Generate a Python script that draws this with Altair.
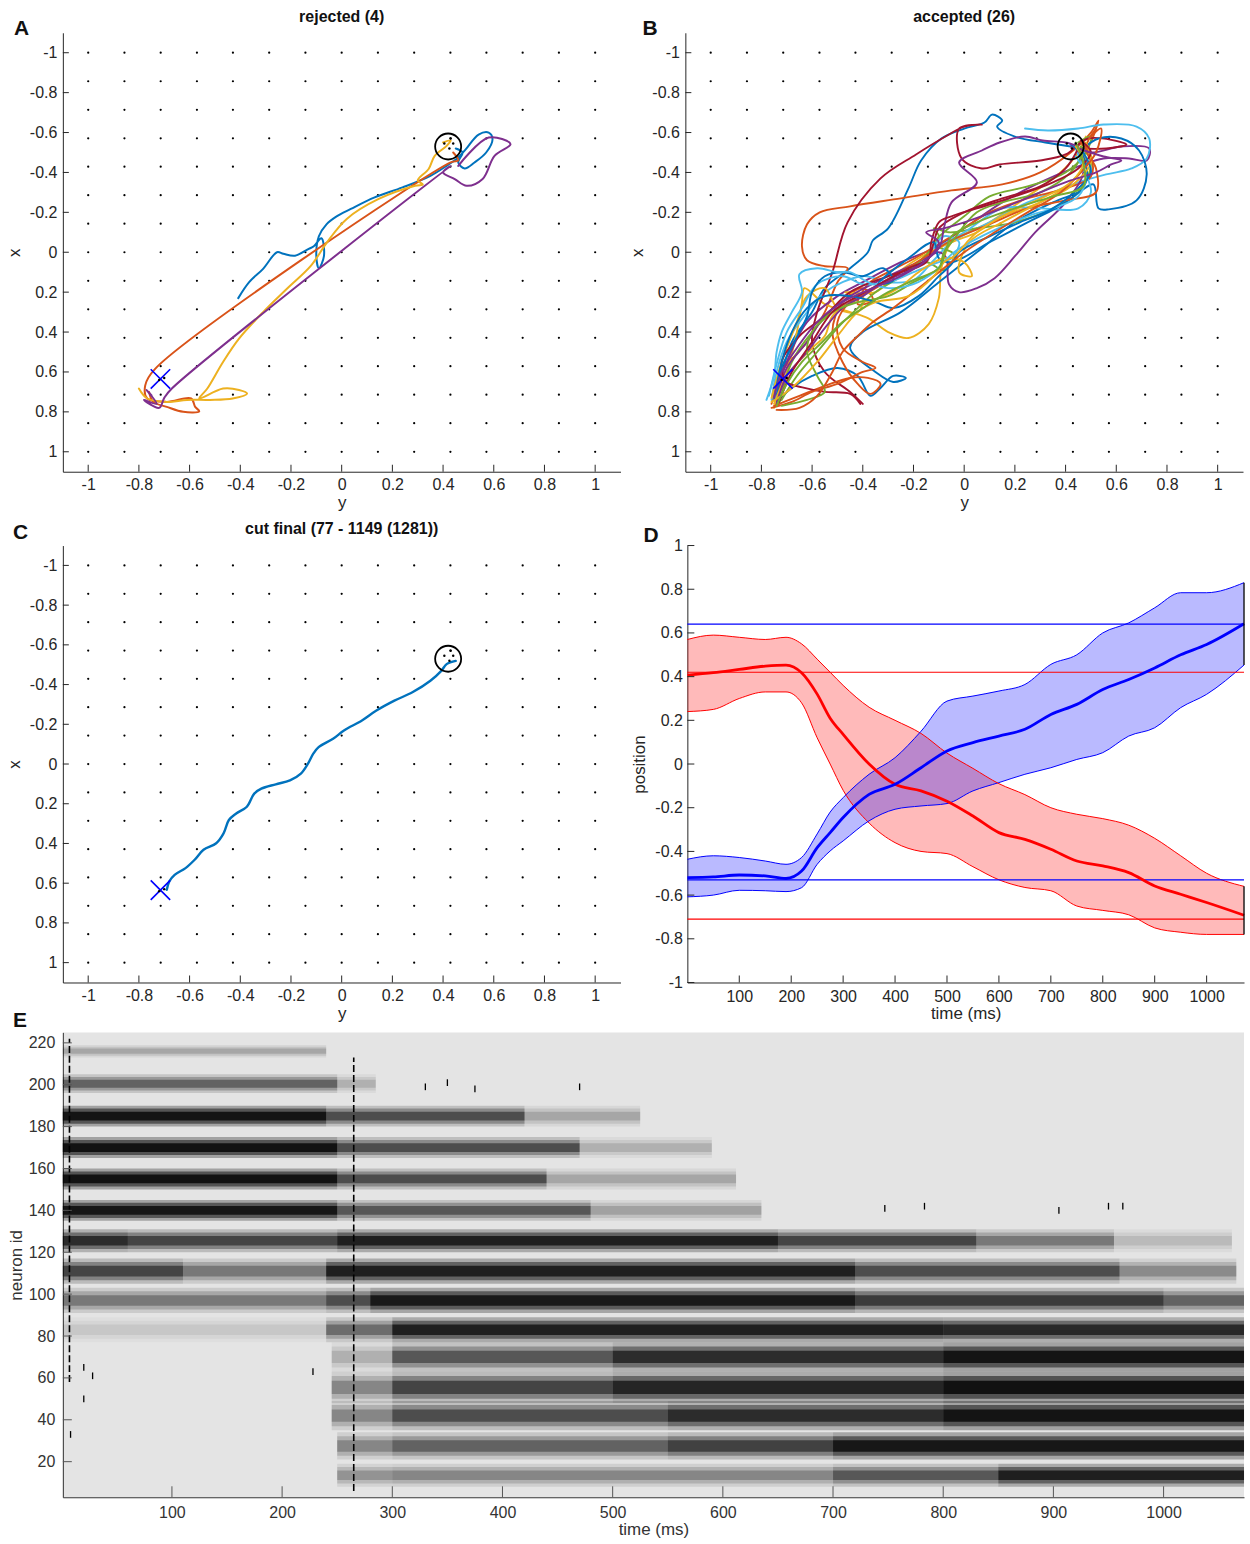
import altair as alt
import pandas as pd

FONT = "Liberation Sans"
INK = "#262626"
MATLAB = ["#0072BD", "#D95319", "#EDB120", "#7E2F8E", "#77AC30", "#4DBEEE", "#A2142F"]

# ---------------- shared for trajectory panels (A, B, C) ----------------
GRID = [-1, -0.857, -0.714, -0.571, -0.429, -0.286, -0.143, 0, 0.143, 0.286,
        0.429, 0.571, 0.714, 0.857, 1]
POS_TICKS = [-1, -0.8, -0.6, -0.4, -0.2, 0, 0.2, 0.4, 0.6, 0.8, 1]
TARGET = (0.42, -0.53)
START = (-0.715, 0.635)

# ---------------- panel A: rejected trajectories (y, x) ----------------
A_TRAJ = [
    [(-0.408, 0.23), (-0.365, 0.15), (-0.31, 0.083), (-0.255, 0.0), (-0.23, 0.008),
     (-0.184, 0.017), (-0.13, -0.017), (-0.11, -0.03), (-0.08, -0.07), (-0.07, 0.02),
     (-0.09, 0.08), (-0.10, 0.02), (-0.09, -0.08), (-0.06, -0.14), (-0.02, -0.18),
     (0.036, -0.217), (0.13, -0.275), (0.24, -0.325), (0.35, -0.383), (0.414, -0.433),
     (0.46, -0.475), (0.49, -0.517), (0.54, -0.59), (0.58, -0.60), (0.595, -0.567),
     (0.57, -0.50), (0.524, -0.45), (0.485, -0.42), (0.46, -0.45), (0.477, -0.50), (0.45, -0.52)],
    [(0.44, -0.50), (0.46, -0.46), (0.43, -0.45), (-0.735, 0.583), (-0.775, 0.667),
     (-0.767, 0.733), (-0.69, 0.75), (-0.594, 0.733), (-0.578, 0.775), (-0.562, 0.797),
     (-0.625, 0.80), (-0.69, 0.775), (-0.743, 0.75), (-0.76, 0.70)],
    [(0.40, -0.55), (0.43, -0.56), (0.414, -0.533), (0.367, -0.483), (0.343, -0.417),
     (0.30, -0.36), (0.32, -0.34), (0.29, -0.333), (0.146, -0.267), (0.02, -0.167),
     (-0.058, -0.05), (-0.121, 0.067), (-0.216, 0.183), (-0.31, 0.30), (-0.405, 0.433),
     (-0.468, 0.55), (-0.53, 0.683), (-0.562, 0.733), (-0.468, 0.683), (-0.405, 0.69),
     (-0.373, 0.708), (-0.43, 0.733), (-0.52, 0.74), (-0.61, 0.74), (-0.69, 0.75),
     (-0.767, 0.733), (-0.80, 0.683)],
    [(-0.75, 0.717), (-0.77, 0.69), (-0.73, 0.76), (-0.78, 0.74), (-0.72, 0.78),
     (-0.70, 0.73), (-0.67, 0.683), (0.43, -0.433), (0.40, -0.40), (0.446, -0.367),
     (0.493, -0.333), (0.556, -0.367), (0.603, -0.483), (0.666, -0.542), (0.58, -0.575),
     (0.46, -0.433)],
]

# ---------------- panel B: accepted trajectories (y, x) ----------------
B_TRAJ = [
    [(-0.74, 0.74), (-0.72, 0.62), (-0.68, 0.45), (-0.60, 0.30), (-0.55, 0.18), (-0.45, 0.08),
     (-0.38, 0.0), (-0.36, -0.06), (-0.30, -0.12), (-0.22, -0.32), (-0.17, -0.46), (-0.09, -0.57),
     (0.0, -0.62), (0.08, -0.65), (0.11, -0.69), (0.15, -0.66), (0.13, -0.63), (0.20, -0.58),
     (0.32, -0.55), (0.42, -0.53)],
    [(-0.76, 0.76), (-0.72, 0.60), (-0.62, 0.45), (-0.55, 0.30), (-0.50, 0.15), (-0.46, 0.08),
     (-0.55, 0.07), (-0.62, 0.04), (-0.64, -0.03), (-0.62, -0.14), (-0.57, -0.20), (-0.45, -0.23),
     (-0.25, -0.27), (-0.05, -0.31), (0.15, -0.34), (0.30, -0.40), (0.42, -0.50), (0.50, -0.60),
     (0.53, -0.66), (0.50, -0.55)],
    [(-0.75, 0.78), (-0.70, 0.60), (-0.66, 0.40), (-0.64, 0.25), (-0.63, 0.18), (-0.55, 0.26),
     (-0.45, 0.30), (-0.38, 0.33), (-0.30, 0.40), (-0.22, 0.43), (-0.14, 0.36), (-0.10, 0.23),
     (-0.09, 0.08), (-0.05, -0.05), (0.10, -0.15), (0.25, -0.28), (0.38, -0.40), (0.45, -0.50),
     (0.48, -0.58)],
    [(-0.74, 0.72), (-0.70, 0.55), (-0.62, 0.35), (-0.50, 0.22), (-0.40, 0.15), (-0.25, 0.05),
     (-0.12, -0.02), (0.0, -0.12), (0.15, -0.25), (0.30, -0.35), (0.45, -0.43), (0.55, -0.47),
     (0.65, -0.47), (0.72, -0.46), (0.73, -0.52), (0.62, -0.53), (0.50, -0.50), (0.42, -0.53)],
    [(-0.73, 0.76), (-0.68, 0.55), (-0.60, 0.40), (-0.52, 0.30), (-0.40, 0.22), (-0.28, 0.12),
     (-0.15, 0.05), (-0.08, 0.09), (-0.04, 0.01), (-0.12, -0.04), (-0.08, -0.10), (0.0, -0.18),
     (0.10, -0.28), (0.25, -0.33), (0.40, -0.40), (0.48, -0.50), (0.50, -0.58), (0.45, -0.55)],
    [(-0.76, 0.74), (-0.74, 0.60), (-0.70, 0.45), (-0.62, 0.30), (-0.55, 0.20), (-0.40, 0.12),
     (-0.30, 0.15), (-0.20, 0.14), (-0.12, 0.04), (-0.05, -0.05), (0.10, -0.15), (0.25, -0.25),
     (0.35, -0.30), (0.45, -0.35), (0.56, -0.39), (0.66, -0.42), (0.72, -0.47), (0.73, -0.57),
     (0.68, -0.63), (0.55, -0.64), (0.45, -0.62), (0.33, -0.61), (0.24, -0.62)],
    [(-0.40, 0.76), (-0.45, 0.70), (-0.55, 0.60), (-0.60, 0.45), (-0.58, 0.30), (-0.52, 0.10),
     (-0.46, -0.15), (-0.33, -0.37), (-0.19, -0.49), (-0.06, -0.59), (0.0, -0.63), (0.07, -0.64),
     (-0.02, -0.62), (-0.01, -0.47), (0.07, -0.42), (0.14, -0.44), (0.30, -0.46), (0.40, -0.49),
     (0.49, -0.57), (0.64, -0.54), (0.56, -0.52), (0.45, -0.52)],
    [(-0.74, 0.75), (-0.68, 0.68), (-0.60, 0.62), (-0.50, 0.58), (-0.42, 0.62), (-0.37, 0.72),
     (-0.33, 0.68), (-0.28, 0.62), (-0.23, 0.63), (-0.28, 0.65), (-0.35, 0.60), (-0.45, 0.48),
     (-0.40, 0.40), (-0.25, 0.30), (-0.10, 0.15), (0.05, 0.0), (0.20, -0.15), (0.35, -0.25),
     (0.45, -0.30), (0.51, -0.34), (0.53, -0.22), (0.57, -0.215), (0.68, -0.26), (0.72, -0.39),
     (0.69, -0.51), (0.62, -0.57), (0.53, -0.57), (0.47, -0.52)],
    [(-0.75, 0.77), (-0.65, 0.72), (-0.55, 0.67), (-0.45, 0.63), (-0.38, 0.63), (-0.33, 0.66),
     (-0.37, 0.71), (-0.42, 0.66), (-0.48, 0.55), (-0.52, 0.40), (-0.48, 0.25), (-0.40, 0.18),
     (-0.36, 0.24), (-0.42, 0.26), (-0.38, 0.16), (-0.30, 0.10), (-0.18, 0.02), (-0.05, -0.08),
     (0.10, -0.20), (0.25, -0.27), (0.40, -0.32), (0.50, -0.38), (0.50, -0.48), (0.46, -0.55)],
    [(-0.76, 0.73), (-0.72, 0.55), (-0.66, 0.35), (-0.62, 0.22), (-0.55, 0.18), (-0.50, 0.28),
     (-0.42, 0.30), (-0.40, 0.22), (-0.47, 0.20), (-0.35, 0.20), (-0.28, 0.12), (-0.18, 0.03),
     (-0.05, -0.05), (0.05, -0.10), (0.15, -0.18), (0.30, -0.25), (0.42, -0.35), (0.48, -0.45),
     (0.45, -0.52)],
    [(-0.74, 0.74), (-0.70, 0.58), (-0.62, 0.45), (-0.55, 0.32), (-0.45, 0.22), (-0.30, 0.12),
     (-0.18, 0.05), (-0.10, 0.0), (-0.07, 0.03), (-0.06, 0.16), (-0.02, 0.20), (0.05, 0.18),
     (0.12, 0.13), (0.20, 0.02), (0.28, -0.10), (0.40, -0.25), (0.47, -0.40), (0.45, -0.50)],
    [(-0.72, 0.74), (-0.66, 0.62), (-0.58, 0.50), (-0.50, 0.38), (-0.42, 0.28), (-0.35, 0.20),
     (-0.25, 0.12), (-0.14, 0.0), (-0.10, -0.08), (-0.12, -0.12), (-0.06, -0.10), (0.05, -0.12),
     (0.20, -0.15), (0.35, -0.22), (0.45, -0.30), (0.50, -0.45), (0.46, -0.53)],
    [(-0.77, 0.72), (-0.74, 0.56), (-0.70, 0.40), (-0.64, 0.28), (-0.58, 0.16), (-0.48, 0.12),
     (-0.40, 0.16), (-0.30, 0.15), (-0.20, 0.10), (-0.10, 0.05), (-0.05, 0.03), (-0.02, -0.05),
     (-0.08, -0.08), (-0.12, -0.02), (0.0, -0.10), (0.15, -0.22), (0.30, -0.22), (0.45, -0.22),
     (0.50, -0.30), (0.47, -0.42), (0.44, -0.52)],
    [(-0.41, 0.76), (-0.45, 0.71), (-0.55, 0.70), (-0.63, 0.68), (-0.70, 0.65), (-0.72, 0.55),
     (-0.65, 0.42), (-0.55, 0.32), (-0.45, 0.20), (-0.30, 0.12), (-0.15, 0.05), (-0.12, -0.05),
     (-0.10, -0.12), (0.0, -0.20), (0.15, -0.27), (0.30, -0.33), (0.40, -0.42), (0.45, -0.52)],
    [(-0.74, 0.73), (-0.72, 0.58), (-0.67, 0.45), (-0.62, 0.32), (-0.60, 0.20), (-0.55, 0.12),
     (-0.48, 0.10), (-0.40, 0.12), (-0.32, 0.08), (-0.28, 0.14), (-0.34, 0.16), (-0.22, 0.03),
     (-0.12, -0.05), (-0.10, 0.03), (-0.05, 0.05), (0.10, -0.05), (0.25, -0.15), (0.40, -0.25),
     (0.48, -0.35), (0.47, -0.48), (0.42, -0.54)],
    [(-0.76, 0.78), (-0.68, 0.75), (-0.60, 0.70), (-0.50, 0.66), (-0.40, 0.60), (-0.35, 0.58),
     (-0.40, 0.55), (-0.48, 0.48), (-0.50, 0.35), (-0.45, 0.25), (-0.35, 0.18), (-0.25, 0.10),
     (-0.15, 0.02), (-0.05, -0.06), (0.10, -0.14), (0.25, -0.22), (0.40, -0.26), (0.52, -0.30),
     (0.52, -0.42), (0.48, -0.52), (0.52, -0.62)],
    [(-0.75, 0.76), (-0.70, 0.62), (-0.60, 0.48), (-0.55, 0.42), (-0.52, 0.32), (-0.46, 0.26),
     (-0.36, 0.24), (-0.26, 0.18), (-0.18, 0.10), (-0.08, 0.03), (0.0, 0.05), (0.03, 0.12),
     (-0.02, 0.10), (0.02, -0.05), (0.15, -0.15), (0.30, -0.25), (0.42, -0.33), (0.50, -0.45),
     (0.48, -0.55)],
    [(-0.74, 0.76), (-0.70, 0.62), (-0.62, 0.50), (-0.55, 0.38), (-0.48, 0.28), (-0.40, 0.22),
     (-0.32, 0.15), (-0.20, 0.08), (-0.10, -0.02), (-0.08, -0.12), (-0.05, -0.25), (0.05, -0.35),
     (-0.02, -0.45), (0.07, -0.51), (0.14, -0.55), (0.24, -0.58), (0.31, -0.56), (0.40, -0.55),
     (0.45, -0.53)],
    [(-0.72, 0.77), (-0.62, 0.74), (-0.55, 0.70), (-0.58, 0.62), (-0.62, 0.50), (-0.60, 0.40),
     (-0.52, 0.30), (-0.42, 0.25), (-0.30, 0.22), (-0.20, 0.15), (-0.10, 0.08), (-0.08, 0.0),
     (-0.05, -0.05), (0.05, -0.20), (0.15, -0.25), (0.30, -0.30), (0.42, -0.40), (0.47, -0.50)],
    [(-0.78, 0.74), (-0.75, 0.62), (-0.74, 0.50), (-0.72, 0.40), (-0.68, 0.30), (-0.64, 0.20),
     (-0.65, 0.11), (-0.58, 0.08), (-0.50, 0.10), (-0.45, 0.10), (-0.38, 0.15), (-0.30, 0.18),
     (-0.20, 0.16), (-0.12, 0.10), (-0.04, 0.00), (0.10, -0.10), (0.25, -0.18), (0.35, -0.22),
     (0.45, -0.28), (0.48, -0.38), (0.44, -0.48)],
    [(-0.73, 0.75), (-0.68, 0.60), (-0.60, 0.45), (-0.52, 0.30), (-0.42, 0.22), (-0.32, 0.15),
     (-0.22, 0.08), (-0.14, 0.03), (-0.13, -0.05), (-0.10, -0.15), (-0.05, -0.18), (0.05, -0.22),
     (0.20, -0.28), (0.35, -0.35), (0.45, -0.42), (0.50, -0.50), (0.46, -0.56)],
    [(-0.75, 0.74), (-0.72, 0.55), (-0.68, 0.40), (-0.62, 0.28), (-0.55, 0.22), (-0.45, 0.22),
     (-0.35, 0.25), (-0.28, 0.28), (-0.18, 0.22), (-0.10, 0.12), (-0.05, 0.06), (-0.02, 0.0),
     (0.10, -0.08), (0.22, -0.15), (0.35, -0.22), (0.45, -0.32), (0.50, -0.40), (0.47, -0.50)],
    [(-0.74, 0.79), (-0.65, 0.78), (-0.58, 0.72), (-0.52, 0.60), (-0.48, 0.50), (-0.42, 0.42),
     (-0.36, 0.35), (-0.28, 0.28), (-0.20, 0.20), (-0.10, 0.10), (0.0, 0.0), (0.12, -0.10),
     (0.25, -0.20), (0.38, -0.30), (0.46, -0.40), (0.52, -0.50), (0.54, -0.62), (0.50, -0.58)],
    [(-0.76, 0.75), (-0.68, 0.68), (-0.58, 0.55), (-0.50, 0.42), (-0.42, 0.30), (-0.35, 0.25),
     (-0.22, 0.22), (-0.12, 0.12), (-0.08, 0.05), (-0.04, 0.02), (0.05, -0.10), (0.18, -0.20),
     (0.32, -0.28), (0.42, -0.35), (0.47, -0.45), (0.44, -0.53)],
    [(-0.75, 0.73), (-0.72, 0.60), (-0.66, 0.48), (-0.58, 0.35), (-0.48, 0.25), (-0.36, 0.18),
     (-0.25, 0.12), (-0.15, 0.04), (-0.10, -0.05), (-0.15, -0.10), (-0.08, -0.12), (0.0, -0.15),
     (0.15, -0.22), (0.30, -0.30), (0.42, -0.36), (0.52, -0.40), (0.58, -0.44), (0.62, -0.46),
     (0.55, -0.48), (0.45, -0.52)],
    [(-0.74, 0.77), (-0.70, 0.66), (-0.64, 0.55), (-0.56, 0.45), (-0.48, 0.35), (-0.40, 0.28),
     (-0.30, 0.20), (-0.20, 0.14), (-0.10, 0.08), (-0.07, -0.02), (-0.05, -0.08), (0.05, -0.15),
     (0.20, -0.22), (0.35, -0.28), (0.47, -0.33), (0.47, -0.45), (0.44, -0.55)],
]

# ---------------- panel C: final cut trajectory (y, x) ----------------
C_TRAJ = [(0.45, -0.519), (0.414, -0.503), (0.393, -0.469), (0.35, -0.419), (0.279, -0.361),
          (0.208, -0.319), (0.137, -0.269), (0.080, -0.219), (0.009, -0.169), (-0.034, -0.127),
          (-0.091, -0.085), (-0.112, -0.052), (-0.133, -0.002), (-0.161, 0.048), (-0.204, 0.082),
          (-0.26, 0.102), (-0.317, 0.124), (-0.345, 0.149), (-0.374, 0.215), (-0.416, 0.249),
          (-0.445, 0.282), (-0.466, 0.349), (-0.495, 0.399), (-0.545, 0.432), (-0.58, 0.482),
          (-0.616, 0.524), (-0.659, 0.558), (-0.68, 0.591), (-0.69, 0.633)]

# ---------------- panel D: position over time ----------------
D_T = [0, 50, 100, 150, 190, 220, 250, 275, 300, 350, 400, 450, 500, 550, 600, 650, 700,
       750, 800, 850, 900, 950, 1000, 1072]
D_RED_MEAN = [0.407, 0.418, 0.433, 0.448, 0.453, 0.418, 0.32, 0.21, 0.136, 0.0, -0.093, -0.123,
              -0.17, -0.238, -0.314, -0.345, -0.39, -0.444, -0.466, -0.497, -0.558, -0.596,
              -0.634, -0.692]
D_RED_HI = [0.57, 0.59, 0.58, 0.57, 0.58, 0.55, 0.48, 0.42, 0.36, 0.26, 0.20, 0.14, 0.05, -0.02,
            -0.09, -0.14, -0.20, -0.23, -0.25, -0.28, -0.34, -0.42, -0.50, -0.56]
D_RED_LO = [0.24, 0.25, 0.30, 0.33, 0.33, 0.28, 0.12, 0.0, -0.12, -0.27, -0.36, -0.40, -0.41,
            -0.47, -0.53, -0.565, -0.58, -0.65, -0.67, -0.69, -0.75, -0.77, -0.78, -0.78]
D_BLUE_MEAN = [-0.52, -0.517, -0.508, -0.512, -0.524, -0.49, -0.383, -0.314, -0.245, -0.139,
               -0.093, -0.017, 0.06, 0.098, 0.128, 0.159, 0.227, 0.273, 0.341, 0.387, 0.44,
               0.50, 0.547, 0.642]
D_BLUE_HI = [-0.436, -0.42, -0.428, -0.444, -0.459, -0.428, -0.32, -0.22, -0.154, -0.047, 0.029,
             0.15, 0.288, 0.311, 0.334, 0.364, 0.456, 0.50, 0.60, 0.646, 0.715, 0.784, 0.784, 0.83]
D_BLUE_LO = [-0.608, -0.60, -0.578, -0.58, -0.584, -0.566, -0.459, -0.398, -0.352, -0.26, -0.207,
             -0.192, -0.181, -0.123, -0.085, -0.047, -0.017, 0.021, 0.052, 0.128, 0.166, 0.258,
             0.319, 0.453]
D_HLINE_VALUES = [0.64, -0.53, 0.42, -0.71]
D_HLINE_SERIES = ["blue", "blue", "red", "red"]
D_Y_TICKS = [-1, -0.8, -0.6, -0.4, -0.2, 0, 0.2, 0.4, 0.6, 0.8, 1]
TIME_TICKS = [100, 200, 300, 400, 500, 600, 700, 800, 900, 1000]
SERIES_COLOR = {"red": "#ff0000", "blue": "#0000ff"}

# ---------------- panel E: spike raster (density per neuron group / time window) -----------
E_GROUP_LO = [213, 196, 180, 165, 150, 135, 120, 105, 91, 77, 63, 48, 35, 21, 8]
E_GROUP_HI = [219, 205, 190, 175, 160, 145, 131, 117, 103, 89, 77, 63, 49, 34, 19]
E_SEG_GROUP = [0,
               1, 1,
               2, 2, 2,
               3, 3, 3,
               4, 4, 4,
               5, 5, 5,
               6, 6, 6, 6, 6, 6,
               7, 7, 7, 7, 7,
               8, 8, 8, 8, 8,
               9, 9, 9, 9,
               10, 10, 10, 10,
               11, 11, 11, 11,
               12, 12, 12, 12,
               13, 13, 13, 13,
               14, 14, 14, 14]
E_SEG_T0 = [1,
            1, 250,
            1, 240, 420,
            1, 250, 470,
            1, 250, 440,
            1, 250, 480,
            1, 60, 250, 650, 830, 955,
            1, 110, 240, 720, 960,
            1, 240, 280, 720, 1000,
            1, 240, 300, 800,
            245, 300, 500, 800,
            245, 300, 500, 800,
            245, 300, 550, 800,
            250, 300, 550, 700,
            250, 300, 700, 850]
E_SEG_T1 = [240,
            250, 285,
            240, 420, 525,
            250, 470, 590,
            250, 440, 612,
            250, 480, 635,
            60, 250, 650, 830, 955, 1062,
            110, 240, 720, 960, 1066,
            240, 280, 720, 1000, 1073,
            240, 300, 800, 1073,
            300, 500, 800, 1073,
            300, 500, 800, 1073,
            300, 550, 800, 1073,
            300, 550, 700, 1073,
            300, 700, 850, 1073]
E_SEG_DENSITY = [0.18,
                 0.45, 0.15,
                 0.95, 0.55, 0.18,
                 0.97, 0.55, 0.15,
                 0.97, 0.55, 0.18,
                 0.93, 0.50, 0.20,
                 0.75, 0.60, 0.85, 0.60, 0.35, 0.12,
                 0.60, 0.35, 0.85, 0.55, 0.28,
                 0.35, 0.55, 0.90, 0.65, 0.45,
                 0.08, 0.40, 0.85, 0.78,
                 0.15, 0.50, 0.75, 0.95,
                 0.30, 0.60, 0.80, 0.98,
                 0.30, 0.55, 0.75, 0.95,
                 0.30, 0.45, 0.62, 0.92,
                 0.25, 0.30, 0.50, 0.85]
E_SPIKE_T = [330, 350, 375, 470, 747, 783, 905, 950, 963, 20, 28, 20, 8, 228]
E_SPIKE_ID = [199, 201, 198, 199, 141, 142, 140, 142, 142, 65, 61, 50, 33, 63]
E_SYNC_T = [265, 7]
E_SYNC_LO = [6, 58]
E_SYNC_HI = [213, 222]
E_Y_TICKS = [20, 40, 60, 80, 100, 120, 140, 160, 180, 200, 220]

one = pd.DataFrame({"k": [0]})


def frame(L, T, W, H, R, B):
    # invisible diagonal that fixes the layout bounds of a panel
    return alt.Chart(one).mark_rule(strokeOpacity=0, opacity=0).encode(
        x=alt.value(-L), x2=alt.value(W + R), y=alt.value(-T), y2=alt.value(H + B))


def text_at(txt, x, y, size, weight="bold", align="left"):
    return alt.Chart(one).mark_text(text=txt, font=FONT, fontSize=size, fontWeight=weight,
                                    align=align, baseline="alphabetic", color="#111111").encode(
        x=alt.value(x), y=alt.value(y))


def make_axis(title, values, tx, ty, lp, color=INK, fs=16, tfs=17):
    return alt.Axis(values=values, title=title, labelExpr="'' + datum.value", ticks=False,
                    tickSize=0, domainColor=color, domainWidth=1, labelFont=FONT,
                    labelFontSize=fs, labelColor=color, labelPadding=lp, labelFlush=False,
                    labelOverlap=False, grid=False, titleFont=FONT, titleFontSize=tfs,
                    titleFontWeight="normal", titleColor=color, titleX=tx, titleY=ty,
                    titleAlign="center", titleBaseline="alphabetic")


def traj_df(trajs, prefix):
    rows = []
    for k, tr in enumerate(trajs):
        for i, (h, v) in enumerate(tr):
            rows.append({"traj": f"{prefix}{k}", "i": i, "h": h, "v": v,
                         "col": MATLAB[k % len(MATLAB)]})
    return pd.DataFrame(rows)


def traj_panel(trajs, prefix, W, H, sw, texts, frame_spec, target_dots):
    xs = alt.Scale(domain=[-1.1, 1.1], nice=False, zero=False)
    ys = alt.Scale(domain=[-1.1, 1.1], nice=False, zero=False, reverse=True)
    X = lambda f: alt.X(f, scale=xs)
    Y = lambda f: alt.Y(f, scale=ys)
    grid_df = pd.DataFrame([(h, v) for h in GRID for v in GRID], columns=["h", "v"])
    dots = alt.Chart(grid_df).mark_circle(size=5, color="black", opacity=1).encode(
        x=alt.X("h:Q", scale=xs, axis=make_axis("y", POS_TICKS, W / 2, 36, 5)),
        y=alt.Y("v:Q", scale=ys, axis=make_axis("x", POS_TICKS, -43, H / 2, 6)))
    df = traj_df(trajs, prefix)
    lines = alt.Chart(df).mark_line(strokeWidth=sw, interpolate="catmull-rom", clip=True,
                                    strokeCap="round", strokeJoin="round").encode(
        x=X("h:Q"), y=Y("v:Q"), order="i:Q", detail="traj:N",
        color=alt.Color("col:N", scale=None))
    tgt = alt.Chart(pd.DataFrame({"h": [TARGET[0]], "v": [TARGET[1]]})).mark_point(
        shape="circle", size=680, filled=False, color="black", strokeWidth=1.8, opacity=1).encode(
        x=X("h:Q"), y=Y("v:Q"))
    st = alt.Chart(pd.DataFrame({"h": [START[0]], "v": [START[1]]})).mark_point(
        shape="M-1,-1L1,1M-1,1L1,-1", size=380, filled=False, color="#0000ff", strokeWidth=1.6,
        opacity=1).encode(x=X("h:Q"), y=Y("v:Q"))
    tdots = alt.Chart(pd.DataFrame({"h": [p[0] for p in target_dots],
                                    "v": [p[1] for p in target_dots]})).mark_circle(
        size=6, color="black", opacity=1).encode(x=X("h:Q"), y=Y("v:Q"))
    yt = alt.Chart(pd.DataFrame({"v": POS_TICKS})).mark_rule(color=INK, strokeWidth=1).encode(
        y=Y("v:Q"), x=alt.value(0), x2=alt.value(6))
    xt = alt.Chart(pd.DataFrame({"h": POS_TICKS})).mark_rule(color=INK, strokeWidth=1).encode(
        x=X("h:Q"), y=alt.value(H), y2=alt.value(H - 7))
    layers = [dots, lines, tgt, st, tdots, yt, xt] + texts + [frame(*frame_spec)]
    return alt.layer(*layers).properties(width=W, height=H)


TDOTS = [(0.405, -0.545), (0.425, -0.52), (0.44, -0.545), (0.43, -0.57), (-0.72, 0.64), (-0.70, 0.63)]

# Panel A
WA, HA = 559, 440
panel_a = traj_panel(A_TRAJ, "a", WA, HA, 2.0,
                     [text_at("A", -49, 2, 21), text_at("rejected (4)", WA / 2, -11, 16, align="center")],
                     (63, 31, WA, HA, 3, 49), TDOTS)
# Panel B
panel_b = traj_panel(B_TRAJ, "b", WA, HA, 1.9,
                     [text_at("B", -43, 2, 21), text_at("accepted (26)", WA / 2, -11, 16, align="center")],
                     (62, 31, WA, HA, 4, 49), TDOTS)
# Panel C (also carries the letter of panel E, which sits above E's plot)
WC, HC = 559, 438
panel_c = traj_panel([C_TRAJ], "c", WC, HC, 2.4,
                     [text_at("C", -50, -7, 21),
                      text_at("cut final (77 - 1149 (1281))", WC / 2, -12, 16, align="center"),
                      text_at("E", -50, 483, 21)],
                     (63, 25, WC, HC, 3, 50), TDOTS)

# Panel D
WD, HD = 558, 438
xsD = alt.Scale(domain=[0, 1072], nice=False, zero=False)
ysD = alt.Scale(domain=[-1, 1], nice=False, zero=False)
n = len(D_T)
d_df = pd.DataFrame({"t": D_T * 2,
                     "lo": D_RED_LO + D_BLUE_LO,
                     "hi": D_RED_HI + D_BLUE_HI,
                     "m": D_RED_MEAN + D_BLUE_MEAN,
                     "s": ["red"] * n + ["blue"] * n})
d_df["col"] = d_df["s"].map(SERIES_COLOR)
XD = lambda f: alt.X(f, scale=xsD)
YD = lambda f: alt.Y(f, scale=ysD)
COL = alt.Color("col:N", scale=None)
d_area = alt.Chart(d_df).mark_area(fillOpacity=0.27, interpolate="monotone").encode(
    x=alt.X("t:Q", scale=xsD, axis=make_axis("time (ms)", TIME_TICKS, WD / 2, 36, 6)),
    y=alt.Y("lo:Q", scale=ysD, axis=make_axis("position", D_Y_TICKS, -43, HD / 2, 5)),
    y2="hi:Q", color=COL, detail="s:N")
d_lo = alt.Chart(d_df).mark_line(strokeWidth=1, interpolate="monotone").encode(
    x=XD("t:Q"), y=YD("lo:Q"), color=COL, detail="s:N")
d_hi = alt.Chart(d_df).mark_line(strokeWidth=1, interpolate="monotone").encode(
    x=XD("t:Q"), y=YD("hi:Q"), color=COL, detail="s:N")
h_df = pd.DataFrame({"v": D_HLINE_VALUES, "s": D_HLINE_SERIES})
h_df["col"] = h_df["s"].map(SERIES_COLOR)
d_h = alt.Chart(h_df).mark_rule(strokeWidth=1.2).encode(y=YD("v:Q"), color=COL)
d_mean = alt.Chart(d_df).mark_line(strokeWidth=2.8, interpolate="monotone").encode(
    x=XD("t:Q"), y=YD("m:Q"), color=COL, detail="s:N")
d_end = alt.Chart(pd.DataFrame({"t": [D_T[-1], D_T[-1]],
                                "lo": [D_RED_LO[-1], D_BLUE_LO[-1]],
                                "hi": [D_RED_HI[-1], D_BLUE_HI[-1]]})).mark_rule(
    color="black", strokeWidth=1.3).encode(x=XD("t:Q"), y=YD("lo:Q"), y2="hi:Q")
d_yt = alt.Chart(pd.DataFrame({"v": D_Y_TICKS})).mark_rule(color=INK, strokeWidth=1).encode(
    y=YD("v:Q"), x=alt.value(0), x2=alt.value(7))
d_xt = alt.Chart(pd.DataFrame({"t": TIME_TICKS})).mark_rule(color=INK, strokeWidth=1).encode(
    x=XD("t:Q"), y=alt.value(HD), y2=alt.value(HD - 7))
panel_d = alt.layer(d_area, d_lo, d_hi, d_h, d_mean, d_end, d_yt, d_xt,
                    text_at("D", -44, -4, 21), frame(64, 25, WD, HD, 3, 50)).properties(
    width=WD, height=HD)

# Panel E
WE, HE = 1184, 466
EAX = "#555555"
xsE = alt.Scale(domain=[1, 1073], nice=False, zero=False)
ysE = alt.Scale(domain=[3, 225], nice=False, zero=False)
XE = lambda f: alt.X(f, scale=xsE)
YE = lambda f: alt.Y(f, scale=ysE)
rect_rows = []
for g, t0, t1, dens in zip(E_SEG_GROUP, E_SEG_T0, E_SEG_T1, E_SEG_DENSITY):
    lo, hi = E_GROUP_LO[g], E_GROUP_HI[g]
    c, half = (lo + hi) / 2, (hi - lo) / 2
    for frac, w in ((1.0, 0.30), (0.72, 0.5), (0.42, 0.8)):
        rect_rows.append({"t0": t0, "t1": t1, "y0": c - frac * half, "y1": c + frac * half,
                          "op": w * dens})
e_df = pd.DataFrame(rect_rows)
e_rects = alt.Chart(e_df).mark_rect(color="black").encode(
    x=alt.X("t0:Q", scale=xsE, axis=make_axis("time (ms)", TIME_TICKS, WE / 2, 37, 7, "#333333")),
    x2="t1:Q",
    y=alt.Y("y0:Q", scale=ysE, axis=make_axis("neuron id", E_Y_TICKS, -41, HE / 2, 8, "#333333")),
    y2="y1:Q",
    opacity=alt.Opacity("op:Q", scale=None))
sp_df = pd.DataFrame({"t": E_SPIKE_T, "a": [i - 1.6 for i in E_SPIKE_ID],
                      "b": [i + 1.6 for i in E_SPIKE_ID]})
e_spikes = alt.Chart(sp_df).mark_rule(color="black", strokeWidth=1.3).encode(
    x=XE("t:Q"), y=YE("a:Q"), y2="b:Q")
sync_df = pd.DataFrame({"t": E_SYNC_T, "a": E_SYNC_LO, "b": E_SYNC_HI})
e_sync = alt.Chart(sync_df).mark_rule(color="black", strokeWidth=1.6, strokeDash=[7, 3]).encode(
    x=XE("t:Q"), y=YE("a:Q"), y2="b:Q")
e_yt = alt.Chart(pd.DataFrame({"v": E_Y_TICKS})).mark_rule(color=EAX, strokeWidth=1).encode(
    y=YE("v:Q"), x=alt.value(0), x2=alt.value(9))
e_xt = alt.Chart(pd.DataFrame({"t": TIME_TICKS})).mark_rule(color=EAX, strokeWidth=1).encode(
    x=XE("t:Q"), y=alt.value(HE), y2=alt.value(HE - 11))
panel_e = alt.layer(e_rects, e_spikes, e_sync, e_yt, e_xt, frame(63, 0, WE, HE, 3, 45)).properties(
    width=WE, height=HE, view=alt.ViewBackground(fill="#e4e4e4", stroke=None))

row1 = alt.hconcat(panel_a, panel_b, spacing=0)
row2 = alt.hconcat(panel_c, panel_d, spacing=0)
chart = alt.vconcat(row1, row2, panel_e, spacing=0).properties(
    padding=0, background="white"
).configure_view(stroke=None)

chart.save("out.html", embed_options={"renderer": "svg", "actions": False})
